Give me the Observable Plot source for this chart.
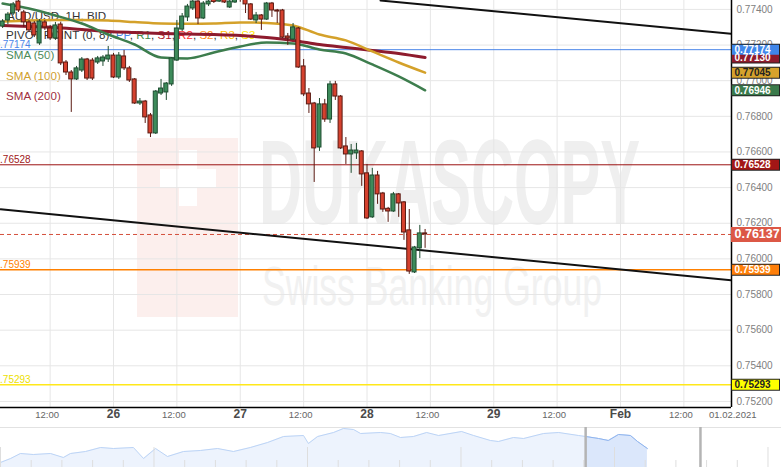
<!DOCTYPE html>
<html><head><meta charset="utf-8">
<script src="https://cdn.jsdelivr.net/npm/d3@7"></script>
<script src="https://cdn.jsdelivr.net/npm/@observablehq/plot@0.6"></script>
<style>
body{margin:0;background:#fff;font-family:"Liberation Sans",Arial,sans-serif}
#wrap{position:relative;width:781px;height:467px;overflow:hidden;background:#fff}
#bg,#chart,#nav{position:absolute;left:0}
#bg{top:0}#chart{top:0}#nav{top:425px}
</style></head><body>
<div id="wrap">
<svg id="bg" width="781" height="407" font-family="Liberation Sans, Arial, sans-serif">
  <rect x="137" y="138" width="101" height="179" fill="#fcefed"/>
  <rect x="179" y="150" width="18" height="56" fill="#fff"/>
  <rect x="160" y="169" width="56" height="18" fill="#fff"/>
  <text x="259" y="224" font-size="121" font-weight="bold" fill="#efefef" textLength="381" lengthAdjust="spacingAndGlyphs">DUKASCOPY</text>
  <text x="262" y="305" font-size="56" fill="#f1f1f1" textLength="340" lengthAdjust="spacingAndGlyphs">Swiss Banking Group</text>
  <g font-size="11.6">
    <text x="7" y="19.5" fill="#333">AUD/USD, 1H, BID</text>
    <text x="6" y="39" fill="#333">PIVOT POINT (0, 8): <tspan fill="#4a86e8">PP</tspan>, <tspan fill="#3f8a4a">R1</tspan>, <tspan fill="#b0202a">S1</tspan>, <tspan fill="#ff3030">R2</tspan>, <tspan fill="#ff8a1a">S2</tspan>, <tspan fill="#ffc000">R3</tspan>, <tspan fill="#ffe600">S3</tspan></text>
    <text x="6" y="59" fill="#4a8a5a">SMA (50)</text>
    <text x="6" y="80" fill="#d0a030">SMA (100)</text>
    <text x="6" y="100" fill="#a03040">SMA (200)</text>
  </g>
</svg>
<div id="chart"></div>
<div id="nav"></div>
</div>
<script>
// ---- candle data: hourly candles, hours counted from 25 Jan 00:00 (trading hours) ----
const hours = d3.range(3, 84);
const open = [
0.77304,0.77338,0.77377,0.77444,0.77383,0.77327,0.77321,0.77209,0.77327,0.77293,
0.77237,0.77315,0.77102,0.77046,0.77007,0.77057,0.77119,0.77113,0.77102,0.77108,
0.77119,0.77141,0.77018,0.77136,0.77069,0.77007,0.76872,0.76883,0.76805,0.76704,
0.76928,0.76934,0.76979,0.77113,0.77287,0.77355,0.77405,0.77444,0.77349,0.77428,
0.77460,0.77444,0.77470,0.77411,0.77439,0.77475,0.77470,0.77428,0.77338,0.77366,
0.77343,0.77433,0.77394,0.77394,0.77248,0.77231,0.77293,0.77080,0.76928,0.76872,
0.76625,0.76867,0.76782,0.76979,0.76911,0.76631,0.76586,0.76592,0.76603,0.76480,
0.76233,0.76468,0.76367,0.76281,0.76266,0.76362,0.76317,0.76160,0.75924,0.76059,
0.76143];
const high = [
0.77343,0.77383,0.77439,0.77460,0.77394,0.77338,0.77332,0.77343,0.77338,0.77310,
0.77327,0.77327,0.77113,0.77057,0.77080,0.77130,0.77125,0.77125,0.77136,0.77141,
0.77192,0.77153,0.77158,0.77170,0.77080,0.77012,0.76900,0.76889,0.76816,0.76945,
0.77007,0.76990,0.77130,0.77338,0.77377,0.77428,0.77460,0.77460,0.77444,0.77460,
0.77480,0.77480,0.77490,0.77460,0.77480,0.77500,0.77490,0.77433,0.77383,0.77371,
0.77439,0.77439,0.77400,0.77400,0.77265,0.77321,0.77299,0.77119,0.76956,0.76878,
0.76900,0.76895,0.76996,0.76996,0.76917,0.76681,0.76642,0.76648,0.76608,0.76530,
0.76508,0.76491,0.76373,0.76289,0.76373,0.76367,0.76322,0.76277,0.76070,0.76188,
0.76165];
const low = [
0.77293,0.77315,0.77366,0.77383,0.77299,0.77270,0.77242,0.77198,0.77282,0.77226,
0.77226,0.77085,0.77029,0.76822,0.77001,0.77046,0.77001,0.77001,0.77091,0.77080,
0.77102,0.77012,0.77007,0.77057,0.76990,0.76867,0.76861,0.76760,0.76681,0.76698,
0.76917,0.76889,0.76968,0.77108,0.77276,0.77332,0.77394,0.77315,0.77343,0.77416,
0.77433,0.77439,0.77433,0.77405,0.77433,0.77440,0.77377,0.77338,0.77321,0.77282,
0.77338,0.77355,0.77321,0.77237,0.77198,0.77226,0.77069,0.76911,0.76816,0.76429,
0.76603,0.76766,0.76760,0.76889,0.76614,0.76530,0.76480,0.76558,0.76407,0.76221,
0.76227,0.76306,0.76261,0.76205,0.76261,0.76233,0.76104,0.75913,0.75918,0.76002,
0.76059];
const close = [
0.77332,0.77371,0.77428,0.77394,0.77327,0.77282,0.77254,0.77332,0.77299,0.77237,
0.77310,0.77097,0.77046,0.77007,0.77069,0.77119,0.77012,0.77012,0.77125,0.77130,
0.77141,0.77018,0.77141,0.77069,0.77001,0.76872,0.76883,0.76794,0.76704,0.76939,
0.76956,0.76984,0.77125,0.77293,0.77360,0.77416,0.77444,0.77349,0.77433,0.77444,
0.77442,0.77470,0.77439,0.77444,0.77465,0.77455,0.77428,0.77343,0.77366,0.77343,
0.77433,0.77394,0.77388,0.77242,0.77237,0.77299,0.77074,0.76923,0.76867,0.76620,
0.76867,0.76782,0.76979,0.76911,0.76620,0.76586,0.76608,0.76608,0.76474,0.76227,
0.76468,0.76362,0.76277,0.76266,0.76362,0.76311,0.76148,0.75929,0.76064,0.76143,
0.76137];

// ---- moving averages (sampled every 5 candles) ----
const smaHours = [3,8,13,18,23,28,33,38,43,48,53,58,63,68,73,78,83];
const sma50  = [0.77433,0.77405,0.77366,0.77321,0.77259,0.77203,0.77130,0.77125,0.77158,0.77192,0.77214,0.77209,0.77175,0.77153,0.77091,0.77024,0.76946];
const sma100 = [0.77332,0.77338,0.77341,0.77341,0.77338,0.77329,0.77321,0.77319,0.77321,0.77327,0.77324,0.77310,0.77259,0.77226,0.77164,0.77102,0.77045];
const sma200 = [0.77310,0.77304,0.77299,0.77287,0.77276,0.77270,0.77265,0.77262,0.77259,0.77254,0.77242,0.77226,0.77203,0.77186,0.77170,0.77153,0.77130];

// ---- pivot levels ----
const pivotNames  = ["PP","S1","S2","S3"];
const pivotValues = [0.77174,0.76528,0.75939,0.75293];
const pivotColors = ["#4a86e8","#9b1212","#ff8000","#ffe81a"];
const pivotTextColors = ["#4a86e8","#a01818","#ff8000","#ece000"];
const pivotWidths = [1,1,1.5,1.5];
const lastPrice = 0.76137;

// ---- trend lines ----
const trendLowH = [2.6,141.02], trendLowP = [0.76278,0.75880];
const trendTopH = [74.56,141.02], trendTopP = [0.77450,0.77263];

// ---- axes ----
const yTicks = [0.752,0.754,0.756,0.758,0.760,0.762,0.764,0.766,0.768,0.770,0.772,0.774];
const dayTicks = [24,48,72,96,120];
const dayLabels = ["26","27","28","29","Feb"];
const hourTicks = [12,36,60,84,108,132];
const hourLabel = "12:00";
const dateLabel = "01.02.2021";

// ---- navigator (overview) ----
const navT = [0,0.33,0.65,1.07,1.63,2.05,2.28,2.77,3.26,3.68,4.33,4.66,5.05,5.44,5.96,6.51,7.07,7.59,8.14,8.70,9.22,9.87,10.03,10.33,10.85,11.17,11.50,11.73,12.38,12.70,13.03,13.45,13.88,14.27,15.02,15.41,15.96,16.22,16.71,17.04,17.69,18.18,18.83,19.06,19.48,19.80,20.13,20.52,20.75,21.07];
const navV = [5,9,14,13,14,10,14,16,20,19,20,9,19,11,16,17,19,16,20,25,31,32,24,31,35,39,38,34,35,34,30,31,35,32,36,32,27,26,30,29,34,35,32,31,29,27,33,32,26,19];
const navWindow = [19.06,22.8];

const xMin = 2.6, xMax = 141.02, yMin = 0.75166, yMax = 0.77450;
const pxPerHour = 731 / (xMax - xMin);
const fmt = d3.format(".5f");

const candles = hours.map((h,i)=>({h, o:open[i], hi:high[i], lo:low[i], c:close[i], up: close[i] >= open[i]}));
const smaLine = (vals) => smaHours.map((h,i)=>({h, v:vals[i]}));
const pivots = pivotNames.map((n,i)=>({n, v:pivotValues[i], color:pivotColors[i], tcolor:pivotTextColors[i], w:pivotWidths[i]}));
const tLow = trendLowH.map((h,i)=>({h, v:trendLowP[i]}));
const tTop = trendTopH.map((h,i)=>({h, v:trendTopP[i]}));

const boxes = [
  {v: sma200[sma200.length-1], bg:"#8e1b2d", fg:"#ffffff"},
  {v: pivotValues[0], bg:"#3f86ea", fg:"#ffffff"},
  {v: sma100[sma100.length-1], bg:"#d6a22c", fg:"#222222"},
  {v: sma50[sma50.length-1], bg:"#3a7a4b", fg:"#ffffff"},
  {v: pivotValues[1], bg:"#a31616", fg:"#ffffff"},
  {v: pivotValues[2], bg:"#ff7f0a", fg:"#ffffff"},
  {v: pivotValues[3], bg:"#ffff00", fg:"#222222"}
];
const boxW = 49 / pxPerHour, onePx = 1 / pxPerHour;

const chart = Plot.plot({
  width: 781, height: 425,
  marginLeft: 0, marginRight: 50, marginTop: 0, marginBottom: 18,
  style: {background: "transparent", fontFamily: "Liberation Sans, Arial, sans-serif"},
  x: {domain: [xMin, xMax], axis: null},
  y: {domain: [yMin, yMax], axis: null},
  color: {type: "identity"},
  marks: [
    Plot.ruleY(yTicks, {y: d=>d, stroke: "#e6e6e6"}),
    Plot.ruleX([...dayTicks, ...hourTicks], {x: d=>d, stroke: "#e6e6e6"}),
    Plot.text(yTicks, {x: ()=>xMax, y: d=>d, text: d=>fmt(d), dx: 5, textAnchor: "start", fontSize: 10, fill: "#808080"}),
    Plot.text(dayTicks, {x: d=>d, text: (d,i)=>dayLabels[i], frameAnchor: "bottom", dy: 10, fontSize: 12, fontWeight: "bold", fill: "#4a4a4a"}),
    Plot.text(hourTicks, {x: d=>d, text: ()=>hourLabel, frameAnchor: "bottom", dy: 10, dx: -3, fontSize: 9.5, fill: "#666"}),
    Plot.text([dateLabel], {text: d=>d, frameAnchor: "bottom-right", dx: 25, dy: 10, fontSize: 9.5, fill: "#666"}),
    Plot.ruleY(pivots, {y: "v", stroke: "color", strokeWidth: "w"}),
    Plot.text(pivots, {y: "v", text: d=>fmt(d.v), frameAnchor: "left", dx: -6, dy: -5, textAnchor: "start", fontSize: 10, fill: "tcolor"}),
    Plot.ruleY([lastPrice], {y: d=>d, stroke: "#d4503c", strokeDasharray: "4,3"}),
    Plot.line(tLow, {x: "h", y: "v", stroke: "#111", strokeWidth: 2, clip: true}),
    Plot.line(tTop, {x: "h", y: "v", stroke: "#111", strokeWidth: 2, clip: true}),
    Plot.line(smaLine(sma200), {x: "h", y: "v", stroke: "#8e1b2d", strokeWidth: 3, curve: "monotone-x"}),
    Plot.line(smaLine(sma100), {x: "h", y: "v", stroke: "#d4a12a", strokeWidth: 2.5, curve: "monotone-x"}),
    Plot.line(smaLine(sma50), {x: "h", y: "v", stroke: "#3d7d4d", strokeWidth: 2.5, curve: "monotone-x"}),
    Plot.ruleX(candles, {x: "h", y1: "lo", y2: "hi", stroke: d=>d.up ? "#1f4d31" : "#5a1a12", strokeWidth: 1, clip: true}),
    Plot.rect(candles, {x1: d=>d.h-0.38, x2: d=>d.h+0.38, y1: "o", y2: "c", fill: d=>d.up ? "#3d8b5a" : "#d5412e", stroke: d=>d.up ? "#1f4d31" : "#5a1a12", strokeWidth: 1, clip: true}),
    Plot.ruleX([xMax], {x: d=>d, stroke: "#000", strokeWidth: 1.5}),
    Plot.ruleY([yMin], {y: d=>d, stroke: "#000", strokeWidth: 1.5}),
    Plot.ruleY(boxes, {y: "v", x1: ()=>xMax, x2: ()=>xMax+boxW, stroke: "#222", strokeWidth: 12}),
    Plot.ruleY(boxes, {y: "v", x1: ()=>xMax+onePx, x2: ()=>xMax+boxW-onePx, stroke: "bg", strokeWidth: 10}),
    Plot.text(boxes, {x: ()=>xMax, y: "v", text: d=>fmt(d.v), dx: 3, textAnchor: "start", fontSize: 10, fontWeight: "bold", fill: "fg"}),
    Plot.ruleY([lastPrice], {y: d=>d, x1: ()=>xMax, x2: ()=>xMax+52/pxPerHour, stroke: "#dc5846", strokeWidth: 15}),
    Plot.text([lastPrice], {x: ()=>xMax, y: d=>d, text: d=>fmt(d), dx: 3, textAnchor: "start", fontSize: 12.5, fontWeight: "bold", fill: "#fff"})
  ]
});
document.getElementById("chart").appendChild(chart);

const nav = navT.map((t,i)=>({t, v:navV[i]}));
const navSel = nav.filter(d=>d.t >= navWindow[0]);
const navMinor = d3.range(1, 26).filter(d=>d%5!==0);
const navMajor = [0,5,10,15,20,25];
const navChart = Plot.plot({
  width: 781, height: 42, margin: 0,
  style: {background: "transparent"},
  x: {domain: [0, 25.44], axis: null},
  y: {domain: [0, 42], axis: null},
  marks: [
    Plot.ruleY([40], {y: d=>d, stroke: "#e2e2e2"}),
    Plot.areaY(nav, {x: "t", y: "v", fill: "#edf3fd"}),
    Plot.lineY(nav, {x: "t", y: "v", stroke: "#bcd4f6", strokeWidth: 1}),
    Plot.areaY(navSel, {x: "t", y: "v", fill: "#dbe7fb"}),
    Plot.lineY(navSel, {x: "t", y: "v", stroke: "#8db3ee", strokeWidth: 1}),
    Plot.ruleX(navMinor, {x: d=>d, y1: ()=>0, y2: ()=>7, stroke: "#dedede"}),
    Plot.ruleX(navMajor, {x: d=>d, y1: ()=>0, y2: ()=>20, stroke: "#dedede"}),
    Plot.ruleX(navWindow, {x: d=>d, y1: ()=>0, y2: ()=>40, stroke: "#b4b4b4", strokeWidth: 2.5})
  ]
});
document.getElementById("nav").appendChild(navChart);
</script>
</body></html>
